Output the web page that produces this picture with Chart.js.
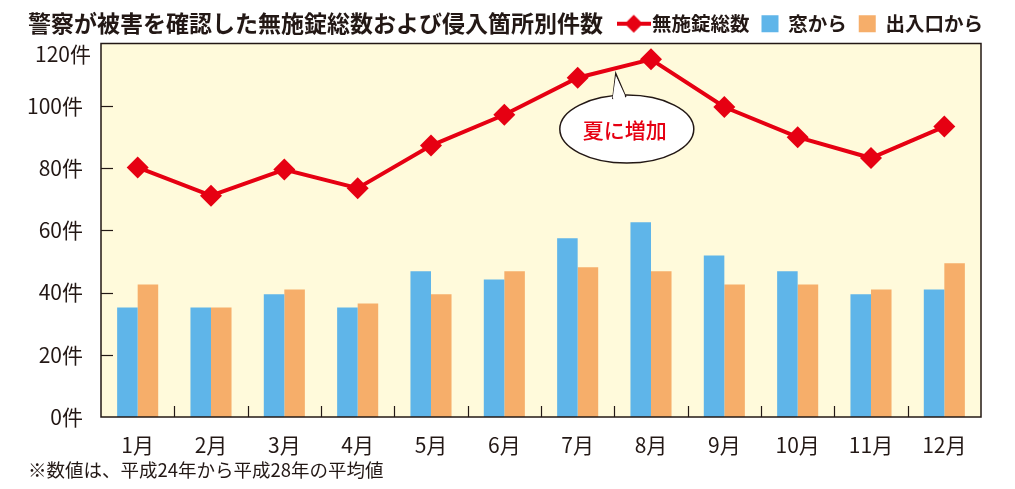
<!DOCTYPE html>
<html lang="ja">
<head>
<meta charset="utf-8">
<script src="https://cdn.jsdelivr.net/npm/chart.js@4.4.1/dist/chart.umd.min.js"></script>
<style>
  html, body { margin: 0; padding: 0; background: #fff; }
  #wrap { position: relative; width: 1015px; height: 489px; }
  #title {
    position: absolute; left: 28px; top: 5px;
    font: bold 23px "Noto Sans CJK JP", sans-serif; color: #231815;
    white-space: nowrap;
  }
  #note {
    position: absolute; left: 28px; top: 456px;
    font: 18.5px "Noto Sans CJK JP", sans-serif; color: #231815; white-space: nowrap;
  }
</style>
</head>
<body>
<div id="wrap">
  <canvas id="chart" width="1015" height="489"></canvas>
  <div id="title">警察が被害を確認した無施錠総数および侵入箇所別件数</div>
  <div id="note">※数値は、平成24年から平成28年の平均値</div>
</div>
<script>
'use strict';

// categories
var months = ['1月', '2月', '3月', '4月', '5月', '6月', '7月', '8月', '9月', '10月', '11月', '12月'];

// series values
var totalUnlocked = [80.2, 71.1, 79.5, 73.5, 87.2, 97.1, 109, 114.9, 99.6, 89.9, 83.2, 93.3];
var fromWindow    = [35.2, 35.2, 39.4, 35.2, 46.8, 44.2, 57.4, 62.6, 51.9, 46.8, 39.4, 41];
var fromEntrance  = [42.6, 35.2, 41, 36.5, 39.4, 46.8, 48.1, 46.8, 42.6, 42.6, 41, 49.4];

// y ticks
var yMin = 0, yMax = 120, yStep = 20;
var yUnit = '件';

var RED = '#e60012', BLUE = '#5fb5e9', ORANGE = '#f6ae6a', BG = '#fffadb', INK = '#231815';
var FONT = '"Noto Sans CJK JP", sans-serif';

/**
 * Legend marker for the line series: a short line with a diamond.
 */
function makeLineMarker() {
    var c = document.createElement('canvas');
    c.width = 34; c.height = 20;
    var g = c.getContext('2d');
    g.strokeStyle = RED; g.lineWidth = 4;
    g.beginPath(); g.moveTo(0, 10); g.lineTo(34, 10); g.stroke();
    g.fillStyle = RED;
    g.beginPath(); g.moveTo(17, 1); g.lineTo(26, 10); g.lineTo(17, 19); g.lineTo(8, 10); g.closePath(); g.fill();
    return c;
}

// background, frame, inner ticks, 120 label and the speech bubble
var framePlugin = {
    id: 'frame',
    beforeDraw: function(chart) {
        var a = chart.chartArea, ctx = chart.ctx;
        ctx.save();
        ctx.fillStyle = BG;
        ctx.fillRect(a.left, a.top, a.right - a.left, a.bottom - a.top);
        ctx.restore();
    },
    afterDraw: function(chart) {
        var a = chart.chartArea, ctx = chart.ctx;
        var xs = chart.scales.x, ys = chart.scales.y;
        ctx.save();
        ctx.strokeStyle = INK;
        ctx.lineWidth = 1.5;
        ctx.strokeRect(a.left, a.top, a.right - a.left, a.bottom - a.top);

        // y ticks inside the frame
        ctx.lineWidth = 1.2;
        for (var v = yMin + yStep; v < yMax; v += yStep) {
            var py = Math.round(ys.getPixelForValue(v)) + 0.5;
            ctx.beginPath(); ctx.moveTo(a.left, py); ctx.lineTo(a.left + 12, py); ctx.stroke();
        }
        // x ticks between the months
        for (var i = 0; i < months.length - 1; i++) {
            var px = Math.round((xs.getPixelForValue(i) + xs.getPixelForValue(i + 1)) / 2) + 0.5;
            ctx.beginPath(); ctx.moveTo(px, a.bottom); ctx.lineTo(px, a.bottom - 11); ctx.stroke();
        }

        // top tick label sits a little lower than its tick
        ctx.fillStyle = INK;
        ctx.font = '21px ' + FONT;
        ctx.textAlign = 'right';
        ctx.textBaseline = 'middle';
        ctx.fillText(yMax + yUnit, a.left - 10, ys.getPixelForValue(yMax) + 11);

        // speech bubble
        var cx = xs.getPixelForValue(6.67), cy = ys.getPixelForValue(92.5);
        var tipX = xs.getPixelForValue(6.52), tipY = ys.getPixelForValue(110.3);
        ctx.fillStyle = '#fff';
        ctx.strokeStyle = INK;
        ctx.lineWidth = 1.5;
        ctx.beginPath();
        ctx.ellipse(cx, cy, 67, 34, 0, 0, Math.PI * 2);
        ctx.fill(); ctx.stroke();
        ctx.beginPath();
        ctx.moveTo(tipX - 3, cy - 30);
        ctx.lineTo(tipX, tipY);
        ctx.lineTo(tipX + 10, cy - 32);
        ctx.stroke();
        ctx.beginPath();
        ctx.moveTo(tipX - 3, cy - 32);
        ctx.lineTo(tipX, tipY + 2);
        ctx.lineTo(tipX + 9, cy - 34);
        ctx.lineTo(tipX + 9, cy - 28);
        ctx.lineTo(tipX - 2, cy - 28);
        ctx.closePath();
        ctx.fill();
        ctx.fillStyle = RED;
        ctx.font = '500 21px ' + FONT;
        ctx.textAlign = 'center';
        ctx.fillText('夏に増加', cx - 2, cy + 1);
        ctx.restore();
    }
};

var ctx = document.getElementById('chart').getContext('2d');
var chart = new Chart(ctx, {
    type: 'bar',
    data: {
        labels: months,
        datasets: [
            {
                type: 'line',
                label: '無施錠総数',
                data: totalUnlocked,
                borderColor: RED,
                backgroundColor: RED,
                borderWidth: 4,
                pointStyle: 'rectRot',
                pointRadius: 11,
                pointBackgroundColor: RED,
                pointBorderColor: RED,
                pointBorderWidth: 0,
                tension: 0,
                fill: false,
                order: 0
            },
            {
                label: '窓から',
                data: fromWindow,
                backgroundColor: BLUE,
                borderWidth: 0,
                order: 1
            },
            {
                label: '出入口から',
                data: fromEntrance,
                backgroundColor: ORANGE,
                borderWidth: 0,
                order: 1
            }
        ]
    },
    options: {
        responsive: false,
        animation: false,
        events: [],
        layout: { padding: { left: 0, right: 20, top: 2, bottom: 0 } },
        datasets: {
            bar: { categoryPercentage: 0.56, barPercentage: 1.0 }
        },
        plugins: {
            tooltip: { enabled: false },
            legend: {
                position: 'top',
                align: 'end',
                labels: {
                    usePointStyle: true,
                    pointStyleWidth: 17,
                    boxHeight: 17,
                    padding: 12,
                    color: INK,
                    font: { family: FONT, size: 19.5, weight: 'bold' },
                    generateLabels: function(chart) {
                        var items = Chart.defaults.plugins.legend.labels.generateLabels(chart);
                        items.forEach(function(it) {
                            var ds = chart.data.datasets[it.datasetIndex];
                            it.pointStyle = ds.type === 'line' ? makeLineMarker() : 'rect';
                            it.fillStyle = ds.type === 'line' ? RED : ds.backgroundColor;
                            it.lineWidth = 0;
                        });
                        return items;
                    }
                }
            }
        },
        scales: {
            x: {
                grid: { display: false },
                border: { display: false },
                ticks: { color: INK, padding: 7, font: { family: FONT, size: 21 } },
                afterFit: function(scale) { scale.height = 72; }
            },
            y: {
                min: yMin,
                max: yMax,
                grid: { display: false },
                border: { display: false },
                ticks: {
                    stepSize: yStep,
                    color: INK,
                    padding: 10,
                    font: { family: FONT, size: 21 },
                    callback: function(v) { return v === yMax ? '' : v + yUnit; }
                },
                afterFit: function(scale) { scale.width = 101; }
            },
            // empty spacer on the right so the frame stops short of the legend's edge
            yRight: {
                position: 'right',
                grid: { display: false },
                border: { display: false },
                ticks: { display: false },
                afterFit: function(scale) { scale.width = 14; }
            }
        }
    },
    plugins: [framePlugin]
});
</script>
</body>
</html>
